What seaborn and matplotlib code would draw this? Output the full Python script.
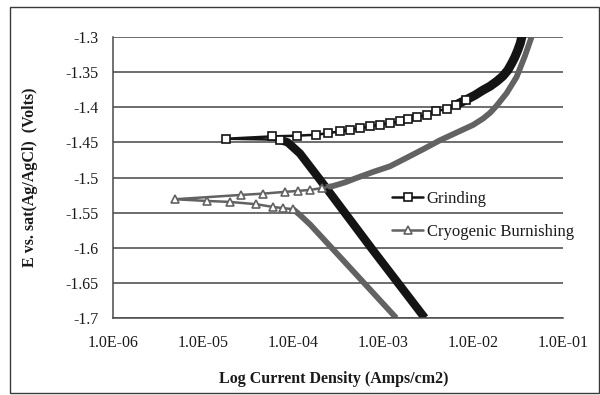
import matplotlib
matplotlib.use("Agg")
import matplotlib.pyplot as plt
import seaborn as sns
from matplotlib.patches import Rectangle
from matplotlib.ticker import FixedLocator, FuncFormatter, NullLocator

# Grinding: cathodic branch (from -1.7 V up to the knee), then anodic branch
grind_cath_i = [2.93e-3, 7.55e-4, 2.08e-4, 1.20e-4, 8.8e-5, 7.2e-5]
grind_cath_e = [-1.700, -1.6014, -1.5057, -1.4657, -1.4500, -1.4461]
grind_anod_i = [1.83e-5, 5.8e-5, 1.10e-4, 1.83e-4, 2.47e-4, 3.33e-4, 4.30e-4,
                5.55e-4, 7.18e-4, 9.27e-4, 1.20e-3, 1.55e-3, 1.91e-3, 2.37e-3,
                3.06e-3, 3.95e-3, 5.11e-3, 6.59e-3, 8.51e-3, 1.05e-2, 1.29e-2,
                1.55e-2, 1.85e-2, 2.15e-2, 2.45e-2, 2.71e-2, 2.93e-2, 3.16e-2,
                3.37e-2, 3.50e-2]
grind_anod_e = [-1.4447, -1.4414, -1.4404, -1.4390, -1.4367, -1.4343, -1.4319,
                -1.4296, -1.4271, -1.4247, -1.4224, -1.4200, -1.4167, -1.4143,
                -1.4104, -1.4057, -1.4019, -1.3961, -1.3890, -1.3829, -1.3757,
                -1.3700, -1.3629, -1.3557, -1.3471, -1.3371, -1.3286, -1.3186,
                -1.3086, -1.3000]

# Cryogenic burnishing: cathodic branch (from -1.7 V up), then anodic branch
cryo_cath_i = [1.41e-3, 3.95e-4, 1.55e-4, 1.20e-4, 1.01e-4, 7.8e-5, 6.04e-5,
               3.95e-5, 2.0e-5, 1.10e-5]
cryo_cath_e = [-1.700, -1.6230, -1.5666, -1.5533, -1.5451, -1.5435, -1.5419,
               -1.5380, -1.5347, -1.5333]
cryo_anod_i = [4.9e-6, 2.69e-5, 4.68e-5, 8.14e-5, 1.15e-4, 1.55e-4, 2.10e-4,
               2.81e-4, 3.78e-4, 5.01e-4, 7.80e-4, 1.20e-3, 1.83e-3, 2.78e-3,
               4.30e-3, 6.59e-3, 1.01e-2, 1.30e-2, 1.55e-2, 1.83e-2, 2.37e-2,
               3.06e-2, 3.79e-2, 4.49e-2]
cryo_anod_e = [-1.5309, -1.5247, -1.5229, -1.5204, -1.5190, -1.5176, -1.5150,
               -1.5120, -1.5070, -1.5010, -1.4920, -1.4840, -1.4720, -1.4600,
               -1.4470, -1.4360, -1.4250, -1.4160, -1.4080, -1.3980, -1.3800,
               -1.3570, -1.3270, -1.3000]

x_ticks = [1e-6, 1e-5, 1e-4, 1e-3, 1e-2, 1e-1]
x_tick_labels = ["1.0E-06", "1.0E-05", "1.0E-04", "1.0E-03", "1.0E-02", "1.0E-01"]
y_ticks = [-1.7, -1.65, -1.6, -1.55, -1.5, -1.45, -1.4, -1.35, -1.3]

sns.set_style("white")
plt.rcParams['font.family'] = ['Liberation Serif', 'DejaVu Serif']

fig = plt.figure(figsize=(6, 3.95), dpi=100)
ax = fig.add_axes([0.188, 0.195, 0.75, 0.711])
ax.set_xscale("log")

black = "#141414"
gray = "#626262"

# steep cathodic parts: the points merge into a heavy band in the original
sns.lineplot(x=grind_cath_i, y=grind_cath_e, color=black, linewidth=6,
             sort=False, estimator=None, solid_capstyle="butt", ax=ax)
sns.lineplot(x=cryo_cath_i[:5], y=cryo_cath_e[:5], color=gray, linewidth=4.2,
             sort=False, estimator=None, solid_capstyle="butt", ax=ax)

# crowded anodic tails
sns.lineplot(x=cryo_anod_i[6:], y=cryo_anod_e[6:], color=gray, linewidth=4.2,
             sort=False, estimator=None, ax=ax)
sns.lineplot(x=grind_anod_i[17:], y=grind_anod_e[17:], color=black, linewidth=6.5,
             sort=False, estimator=None, ax=ax)

# full series with markers (markers hidden where they merge into the band)
g_x = grind_cath_i + grind_anod_i
g_y = grind_cath_e + grind_anod_e
n_gc = len(grind_cath_i)
g_marks = list(range(n_gc - 1, n_gc + 19))
sns.lineplot(x=g_x, y=g_y, color=black, linewidth=1.8, marker="s", markersize=5.5,
             markerfacecolor="white", markeredgecolor=black, markeredgewidth=1.2,
             markevery=g_marks, sort=False, estimator=None, label="Grinding", ax=ax)

c_x = cryo_cath_i + cryo_anod_i
c_y = cryo_cath_e + cryo_anod_e
n_cc = len(cryo_cath_i)
c_marks = list(range(4, n_cc + 7))
sns.lineplot(x=c_x, y=c_y, color=gray, linewidth=1.8, marker="^", markersize=5.5,
             markerfacecolor="white", markeredgecolor=gray, markeredgewidth=1.2,
             markevery=c_marks, sort=False, estimator=None,
             label="Cryogenic Burnishing", ax=ax)

ax.set_xlim(1e-6, 1e-1)
ax.set_ylim(-1.7, -1.3)
ax.xaxis.set_major_locator(FixedLocator(x_ticks))
ax.xaxis.set_minor_locator(NullLocator())
ax.set_xticklabels(x_tick_labels)
ax.yaxis.set_major_locator(FixedLocator(y_ticks))
ax.yaxis.set_major_formatter(FuncFormatter(lambda v, p: f"{v:g}"))

ax.yaxis.grid(True, color="#555555", linewidth=1.2)
ax.xaxis.grid(False)
for side in ["top", "right"]:
    ax.spines[side].set_visible(False)
for side in ["left", "bottom"]:
    ax.spines[side].set_color("#4a4a4a")
    ax.spines[side].set_linewidth(1.1)

ax.tick_params(axis="both", which="major", direction="out", length=4.3, width=1,
               color="#4a4a4a", labelsize=11.5, labelcolor="#1a1a1a")
ax.tick_params(axis="y", pad=6)
ax.tick_params(axis="x", pad=8)

ax.set_xlabel("Log Current Density (Amps/cm2)", fontsize=11.5, fontweight="bold",
              color="#1a1a1a")
ax.set_ylabel("E vs. sat(Ag/AgCl)  (Volts)", fontsize=11.5, fontweight="bold",
              color="#1a1a1a")
ax.xaxis.set_label_coords(0.491, -0.19)
ax.yaxis.set_label_coords(-0.166, 0.5)

leg = ax.legend(loc="upper left", bbox_to_anchor=(0.62, 0.452), frameon=False,
                fontsize=12, handlelength=1.9, handletextpad=0.2,
                labelspacing=1.0, borderpad=0, borderaxespad=0)
for t in leg.get_texts():
    t.set_color("#1a1a1a")

fig.patches.append(Rectangle((0.017, 0.005), 0.981, 0.978, transform=fig.transFigure,
                             fill=False, edgecolor="#3a3a3a", linewidth=1))

fig.savefig("out.png", dpi=100, facecolor="white")
